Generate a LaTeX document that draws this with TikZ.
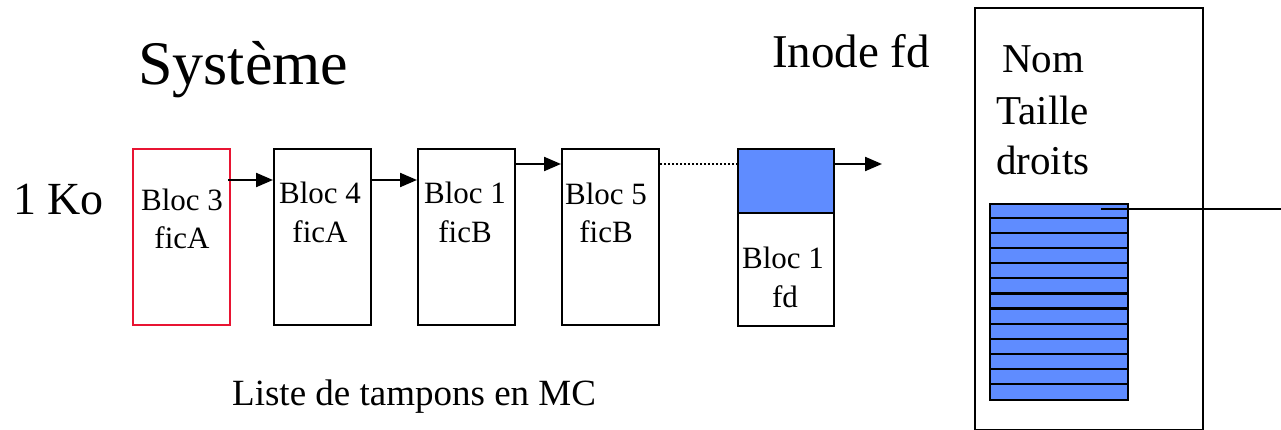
\documentclass[tikz,border=0pt]{standalone}
\usepackage{fontspec}
\setmainfont{Liberation Serif}
\usetikzlibrary{arrows.meta,calc}
\definecolor{blk}{RGB}{95,140,255}
\definecolor{redb}{RGB}{232,20,50}
\tikzset{
  buf/.style={draw=black, line width=2.4pt, minimum width=97pt, minimum height=176pt, anchor=north west, inner sep=0pt},
  arr/.style={line width=2.2pt, -{Triangle[length=17pt,width=14pt]}},
  txt/.style={anchor=base, inner sep=0pt, font=\fontsize{31}{31}\selectfont},
}
\begin{document}
\begin{tikzpicture}[x=1pt,y=-1pt]
\useasboundingbox (0,0) rectangle (1281,430);
% titles
\node[anchor=base west, inner sep=0pt, font=\fontsize{62}{62}\selectfont] (sys) at (138,85) {Système};
\node[anchor=base west, inner sep=0pt, font=\fontsize{47}{47}\selectfont] (inode) at (772,68) {Inode fd};
\node[anchor=base west, inner sep=0pt, font=\fontsize{46}{46}\selectfont] (ko) at (13,215) {1 Ko};
\node[anchor=base west, inner sep=0pt, font=\fontsize{37}{37}\selectfont] (liste) at (232,405) {Liste de tampons en MC};
% buffers
\node[buf, draw=redb] (b3) at (132,148) {};
\node[buf] (b4) at (273,148) {};
\node[buf] (b1) at (417,148) {};
\node[buf] (b5) at (561,148) {};
\node[buf, minimum width=96pt, minimum height=177pt,
  path picture={\fill[blk] (path picture bounding box.north west) rectangle ([yshift=-65pt]path picture bounding box.north east);}] (bfd) at (737,148) {};
\draw[line width=2.4pt] ([yshift=-65pt]bfd.north west) -- ([yshift=-65pt]bfd.north east);
% texts in buffers
\node[txt] (t3a) at (182,211) {Bloc 3};
\node[txt] (t3b) at (182,248) {ficA};
\node[txt] (t4a) at (320,204) {Bloc 4};
\node[txt] (t4b) at (320,243) {ficA};
\node[txt] (t1a) at (465,204) {Bloc 1};
\node[txt] (t1b) at (465,243) {ficB};
\node[txt] (t5a) at (606,205) {Bloc 5};
\node[txt] (t5b) at (606,243) {ficB};
\node[txt] (tfa) at (783,268) {Bloc 1};
\node[txt] (tfb) at (785,307) {fd};
% connectors
\draw[arr] ([yshift=-32pt,xshift=-3pt]b3.north east) -- ([yshift=-32pt]b4.north west);
\draw[arr] ([yshift=-32pt]b4.north east) -- ([yshift=-32pt]b1.north west);
\draw[arr] ([yshift=-16pt]b1.north east) -- ([yshift=-16pt]b5.north west);
\draw[line width=2pt, dotted] ([yshift=-16pt]b5.north east) -- ([yshift=-16pt]bfd.north west);
\coordinate (outend) at (882,164);
\draw[arr] ([yshift=-16pt]bfd.north east) -- (outend);
% inode box
\node[draw, line width=2pt, minimum width=228pt, minimum height=422pt, anchor=north west, inner sep=0pt] (ino) at (974,7) {};
\node[anchor=base west, inner sep=0pt, font=\fontsize{41}{41}\selectfont] (nom) at (1002,73) {Nom};
\node[anchor=base west, inner sep=0pt, font=\fontsize{41}{41}\selectfont] (taille) at (996,125) {Taille};
\node[anchor=base west, inner sep=0pt, font=\fontsize{41}{41}\selectfont] (droits) at (996,175) {droits};
% table
\node[draw, fill=blk, line width=2.2pt, minimum width=138pt, minimum height=196pt, anchor=north west, inner sep=0pt] (tab) at (989,203) {};
\foreach \i in {1,...,12} {
  \draw[line width=2.2pt] ($(tab.north west)+(0,{\i*196/13})$) -- ($(tab.north east)+(0,{\i*196/13})$);
}
\coordinate (ptr) at (1101,209);
\coordinate (ptrend) at (1281,209);
\draw[line width=1.6pt] (ptr) -- (ptrend);
\end{tikzpicture}
\end{document}
